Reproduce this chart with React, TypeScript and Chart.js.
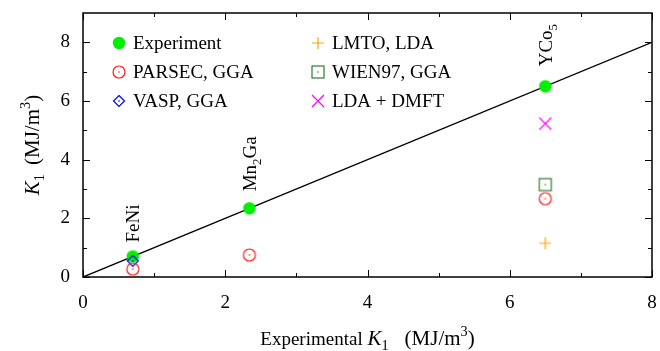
import React, { useEffect, useRef } from 'react';
import { Chart, registerables } from 'chart.js';

Chart.register(...registerables);

// ---------------- data ----------------
const compounds = ['FeNi', 'Mn2Ga', 'YCo5'];
const experimentK1 = [0.7, 2.34, 6.5];
const parsecK1: (number | null)[] = [0.27, 0.75, 2.67];
const vaspK1: (number | null)[] = [0.55, null, null];
const lmtoK1: (number | null)[] = [null, null, 1.15];
const wien97K1: (number | null)[] = [null, null, 3.15];
const ldaDmftK1: (number | null)[] = [null, null, 5.23];
const seriesNames = ['Experiment', 'PARSEC, GGA', 'VASP, GGA', 'LMTO, LDA', 'WIEN97, GGA', 'LDA + DMFT'];
const xRange = [0, 8];
const yRange = [0, 9];
const xTickLabels = [0, 2, 4, 6, 8];
const yTickLabels = [0, 2, 4, 6, 8];

// ---------------- styles ----------------
const FONT = "'Liberation Serif', 'Times New Roman', serif";
const FS = 19;
const labelGap = [14, 17, 20];

type Seg = { t: string; it?: boolean; sub?: boolean; sup?: boolean; size?: number; gap?: number };

function makeMarker(kind: string, color: string): HTMLCanvasElement {
  const size = 18;
  const c = document.createElement('canvas');
  c.width = size;
  c.height = size;
  const g = c.getContext('2d')!;
  const m = size / 2;
  g.strokeStyle = color;
  g.fillStyle = color;
  g.lineWidth = 1.2;
  const dot = () => {
    g.beginPath();
    g.arc(m, m, 0.8, 0, Math.PI * 2);
    g.fill();
  };
  g.beginPath();
  switch (kind) {
    case 'disc':
      g.arc(m, m, 6.2, 0, Math.PI * 2);
      g.fill();
      break;
    case 'circleDot':
      g.arc(m, m, 6, 0, Math.PI * 2);
      g.stroke();
      dot();
      break;
    case 'squareDot':
      g.strokeRect(m - 6, m - 6, 12, 12);
      dot();
      break;
    case 'diamondDot':
      g.moveTo(m, m - 5.5);
      g.lineTo(m + 5.5, m);
      g.lineTo(m, m + 5.5);
      g.lineTo(m - 5.5, m);
      g.closePath();
      g.stroke();
      dot();
      break;
    case 'plus':
      g.moveTo(m - 6, m);
      g.lineTo(m + 6, m);
      g.moveTo(m, m - 6);
      g.lineTo(m, m + 6);
      g.stroke();
      break;
    case 'cross':
      g.moveTo(m - 6, m - 6);
      g.lineTo(m + 6, m + 6);
      g.moveTo(m + 6, m - 6);
      g.lineTo(m - 6, m + 6);
      g.stroke();
      break;
  }
  return c;
}

function chemSegs(name: string): Seg[] {
  const out: Seg[] = [];
  const re = /(\d+)|(\D+)/g;
  let mm: RegExpExecArray | null;
  while ((mm = re.exec(name))) {
    if (mm[1]) out.push({ t: mm[1], sub: true });
    else out.push({ t: mm[2] });
  }
  return out;
}

function segFont(s: Seg, size: number) {
  const base = s.size ?? size;
  const sz = s.sub || s.sup ? base * 0.68 : base;
  return `${s.it ? 'italic ' : ''}${sz}px ${FONT}`;
}

function richWidth(ctx: CanvasRenderingContext2D, segs: Seg[], size: number) {
  let w = 0;
  for (const s of segs) {
    ctx.font = segFont(s, size);
    w += ctx.measureText(s.t).width + (s.gap ?? 0);
  }
  return w;
}

function drawRich(ctx: CanvasRenderingContext2D, segs: Seg[], x: number, y: number, size: number, align: 'left' | 'center') {
  let cx = align === 'center' ? x - richWidth(ctx, segs, size) / 2 : x;
  ctx.textAlign = 'left';
  ctx.textBaseline = 'alphabetic';
  for (const s of segs) {
    ctx.font = segFont(s, size);
    const base = s.size ?? size;
    const dy = s.sub ? base * 0.25 : s.sup ? -base * 0.42 : 0;
    ctx.fillText(s.t, cx, y + dy);
    cx += ctx.measureText(s.t).width + (s.gap ?? 0);
  }
}

const xTitle: Seg[] = [
  { t: 'Experimental ', size: 19 },
  { t: 'K', it: true, size: 21 },
  { t: '1', sub: true, size: 21, gap: 16 },
  { t: '(MJ/m', size: 21 },
  { t: '3', sup: true, size: 21 },
  { t: ')', size: 21 },
];
const yTitle: Seg[] = [
  { t: 'K', it: true, size: 21 },
  { t: '1', sub: true, size: 21, gap: 9 },
  { t: '(MJ/m', size: 21 },
  { t: '3', sup: true, size: 21 },
  { t: ')', size: 21 },
];

export default function App() {
  const ref = useRef<HTMLCanvasElement | null>(null);

  useEffect(() => {
    document.body.style.margin = '0';
    const discM = makeMarker('disc', '#00f000');
    const parsecM = makeMarker('circleDot', '#ff1a1a');
    const vaspM = makeMarker('diamondDot', '#0000ff');
    const lmtoM = makeMarker('plus', '#ffa500');
    const wienM = makeMarker('squareDot', '#2e7d32');
    const dmftM = makeMarker('cross', '#ff00ff');
    const styleFor = [discM, parsecM, vaspM, lmtoM, wienM, dmftM];
    const values = [experimentK1, parsecK1, vaspK1, lmtoK1, wien97K1, ldaDmftK1];

    const pts = (arr: (number | null)[]) =>
      compounds
        .map((_, i) => ({ x: experimentK1[i], y: arr[i] }))
        .filter((p) => p.y !== null) as { x: number; y: number }[];

    const datasets: any[] = values.map((arr, i) => ({
      label: seriesNames[i],
      data: pts(arr),
      pointStyle: styleFor[i],
      pointRadius: 6,
      showLine: false,
      order: i === 0 ? 5 : 1,
    }));
    datasets.push({
      label: 'y = x',
      data: [
        { x: xRange[0], y: xRange[0] },
        { x: xRange[1], y: xRange[1] },
      ],
      showLine: true,
      borderColor: '#000',
      borderWidth: 1.4,
      pointRadius: 0,
      order: 10,
    });

    const zeroPad = (s: any) => {
      s.paddingLeft = 0;
      s.paddingRight = 0;
      s.paddingTop = 0;
      s.paddingBottom = 0;
    };

    const decor = {
      id: 'decor',
      afterDraw(chart: any) {
        const { ctx, chartArea: a, scales } = chart;
        const sx = scales.x;
        const sy = scales.y;
        ctx.save();
        // ticks
        ctx.strokeStyle = '#000';
        ctx.lineWidth = 1;
        ctx.beginPath();
        for (let v = xRange[0]; v <= xRange[1]; v++) {
          const px = Math.round(sx.getPixelForValue(v)) + 0.5;
          const L = xTickLabels.includes(v) ? 7 : 4;
          ctx.moveTo(px, a.bottom);
          ctx.lineTo(px, a.bottom - L);
          ctx.moveTo(px, a.top);
          ctx.lineTo(px, a.top + L);
        }
        for (let v = yRange[0]; v < yRange[1]; v++) {
          const py = Math.round(sy.getPixelForValue(v)) + 0.5;
          const L = yTickLabels.includes(v) ? 7 : 4;
          ctx.moveTo(a.left, py);
          ctx.lineTo(a.left + L, py);
          ctx.moveTo(a.right, py);
          ctx.lineTo(a.right - L, py);
        }
        ctx.stroke();
        // frame
        ctx.lineWidth = 1.5;
        ctx.strokeRect(a.left, a.top, a.right - a.left, a.bottom - a.top);

        ctx.fillStyle = '#000';
        // compound labels (rotated)
        compounds.forEach((name, i) => {
          const px = sx.getPixelForValue(experimentK1[i]);
          const py = sy.getPixelForValue(experimentK1[i]);
          ctx.save();
          ctx.translate(px + 6.5, py - labelGap[i]);
          ctx.rotate(-Math.PI / 2);
          drawRich(ctx, chemSegs(name), 0, 0, FS, 'left');
          ctx.restore();
        });

        // legend (two columns)
        const cols = [a.left + 36, a.left + 235];
        const rows = [a.top + 30, a.top + 59, a.top + 88];
        seriesNames.forEach((n, i) => {
          const cx = cols[Math.floor(i / 3)];
          const cy = rows[i % 3];
          const img = styleFor[i];
          ctx.drawImage(img, cx - img.width / 2, cy - img.height / 2);
          ctx.font = `${FS}px ${FONT}`;
          ctx.textAlign = 'left';
          ctx.textBaseline = 'middle';
          ctx.fillText(n, cx + 14, cy + 1);
        });

        // axis titles
        drawRich(ctx, xTitle, (a.left + a.right) / 2, 345, FS, 'center');
        ctx.save();
        ctx.translate(39, (a.top + a.bottom) / 2);
        ctx.rotate(-Math.PI / 2);
        drawRich(ctx, yTitle, 0, 0, FS, 'center');
        ctx.restore();
        ctx.restore();
      },
    };

    const chart = new Chart(ref.current!, {
      type: 'scatter',
      data: { datasets },
      options: {
        animation: false,
        responsive: true,
        maintainAspectRatio: false,
        layout: { padding: { top: 13, right: 8, left: 0, bottom: 0 } },
        plugins: { legend: { display: false }, tooltip: { enabled: false } },
        scales: {
          x: {
            type: 'linear',
            min: xRange[0],
            max: xRange[1],
            afterFit: (s: any) => {
              s.height = 74;
              zeroPad(s);
            },
            afterBuildTicks: (s: any) => {
              s.ticks = xTickLabels.map((v) => ({ value: v }));
            },
            ticks: {
              autoSkip: false,
              maxRotation: 0,
              padding: 15,
              color: '#000',
              font: { family: FONT, size: FS },
            },
            grid: { display: false, drawTicks: false },
            border: { display: false },
          },
          y: {
            type: 'linear',
            min: yRange[0],
            max: yRange[1],
            afterFit: (s: any) => {
              s.width = 83;
              zeroPad(s);
            },
            afterBuildTicks: (s: any) => {
              s.ticks = yTickLabels.map((v) => ({ value: v }));
            },
            ticks: {
              autoSkip: false,
              padding: 13,
              color: '#000',
              font: { family: FONT, size: FS },
            },
            grid: { display: false, drawTicks: false },
            border: { display: false },
          },
        },
      },
      plugins: [decor],
    });
    return () => chart.destroy();
  }, []);

  return (
    <div style={{ width: 660, height: 351, position: 'relative' }}>
      <canvas ref={ref} />
    </div>
  );
}
